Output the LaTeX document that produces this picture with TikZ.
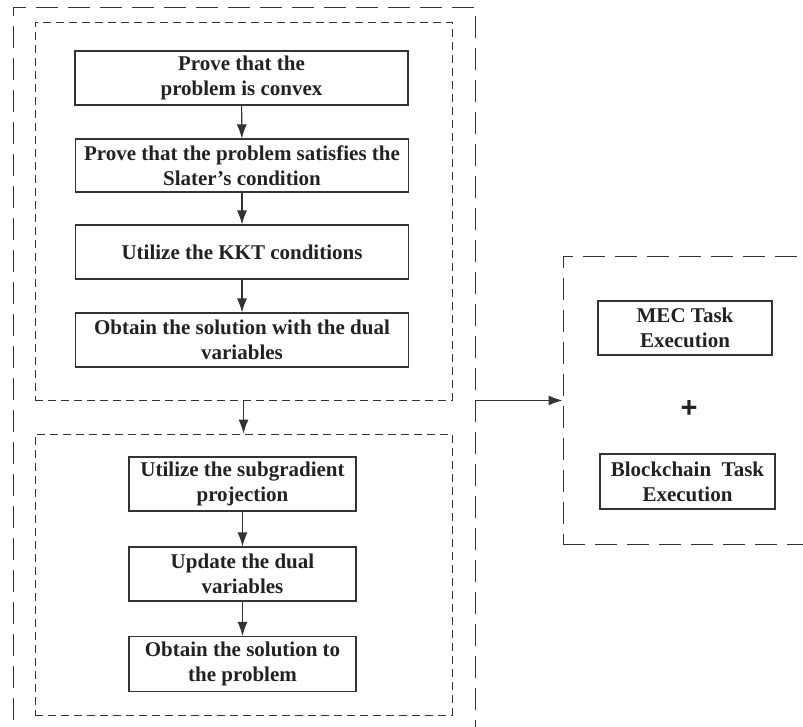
\documentclass[tikz,border=0pt]{standalone}
\usepackage{fontspec}
\setmainfont{Liberation Serif}
\newfontfamily\plusfont{Liberation Sans}
\usetikzlibrary{arrows.meta}
\definecolor{linegray}{HTML}{333333}
\definecolor{textgray}{HTML}{222222}
\tikzset{
  stepbox/.style={draw=linegray, line width=1.1pt, align=center, inner sep=0pt,
    text=textgray, font=\fontsize{21}{25}\selectfont\bfseries},
  groupbox/.style={draw=linegray, line width=0.9pt, dash pattern=on 8pt off 5pt, inner sep=0pt},
  outerbox/.style={draw=linegray, line width=0.9pt, dash pattern=on 22pt off 10pt, inner sep=0pt},
  flow/.style={draw=linegray, line width=1.1pt, -{Latex[length=14pt,width=10pt]}}
}
\begin{document}
\begin{tikzpicture}[x=1pt,y=-1pt]
			%%%%% FRAME %%%%%
			\useasboundingbox (0,0) rectangle (803,726);
			
			\node[outerbox, minimum width=462, minimum height=753] (outer) at (244, 383.5) {};
			\node[groupbox, minimum width=417, minimum height=378] (upper) at (243.5, 211) {};
			\node[groupbox, minimum width=417, minimum height=281] (lower) at (243.5, 574.5) {};
			\node[outerbox, minimum width=277, minimum height=288] (tasks) at (701.5, 400) {};
			
			%%%%% STEPS %%%%%
			\node[stepbox, minimum width=333, minimum height=54] (convex) at (241.5, 78) {Prove that the\\problem is convex};
			\node[stepbox, minimum width=333, minimum height=53] (slater) at (242, 165.5) {Prove that the problem satisfies the\\Slater’s condition};
			\node[stepbox, minimum width=333, minimum height=54] (kkt) at (242, 252) {Utilize the KKT conditions};
			\node[stepbox, minimum width=333, minimum height=54] (dualsol) at (242, 340) {Obtain the solution with the dual\\variables};
			
			\node[stepbox, minimum width=227, minimum height=54] (subgrad) at (242.5, 484) {Utilize the subgradient\\projection};
			\node[stepbox, minimum width=227, minimum height=54] (update) at (242.5, 574) {Update the dual\\variables};
			\node[stepbox, minimum width=227, minimum height=55] (final) at (242.5, 664) {Obtain the solution to\\the problem};
			
			\node[stepbox, minimum width=174, minimum height=54] (mec) at (685, 328) {MEC Task\\Execution};
			\node[text=textgray, font=\plusfont\fontsize{29}{29}\selectfont\bfseries, inner sep=0pt] (plus) at (689, 409) {+};
			\node[stepbox, minimum width=175, minimum height=55] (chain) at (687.5, 481.5) {Blockchain\ \ Task\\Execution};
			
			%%%%% ARROWS %%%%%
			\draw[flow] (convex) -- (slater);
			\draw[flow] (slater) -- (kkt);
			\draw[flow] (kkt) -- (dualsol);
			\draw[flow] (upper) -- (lower);
			\draw[flow] (subgrad) -- (update);
			\draw[flow] (update) -- (final);
			\draw[flow] (upper.south -| outer.east) -- (upper.south -| tasks.west);
			
\end{tikzpicture}
\end{document}
